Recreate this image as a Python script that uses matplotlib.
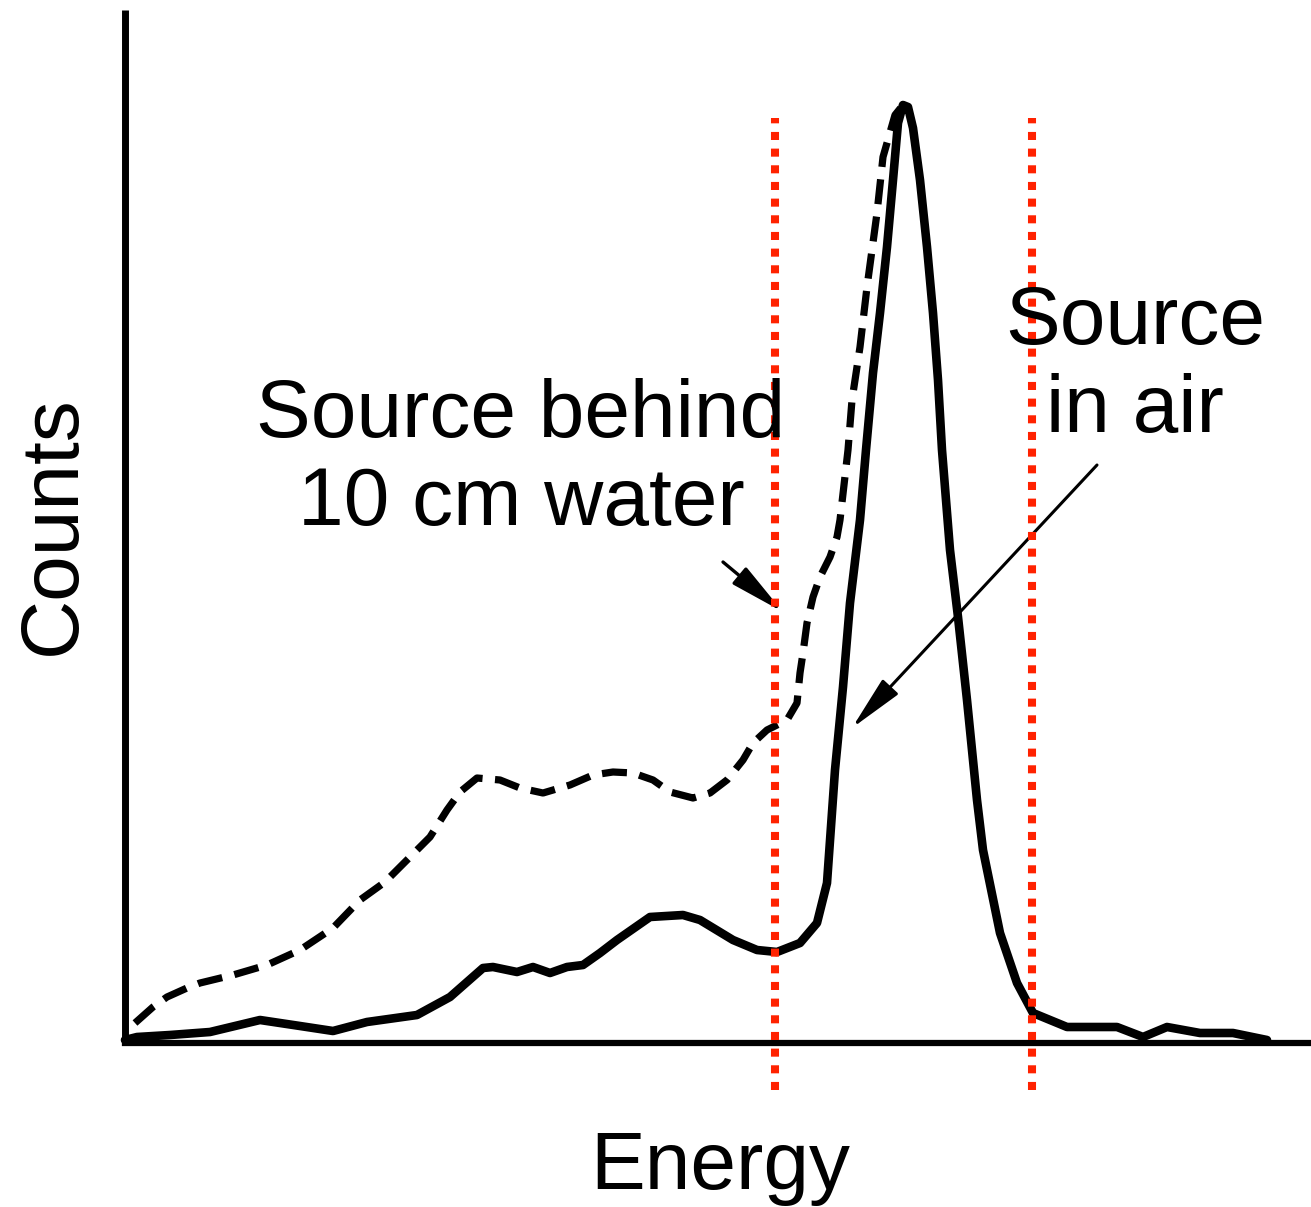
import matplotlib
matplotlib.use("Agg")
import matplotlib.pyplot as plt

# ---- data (arbitrary energy channels / counts) ----
air_energy = [0, 12, 45, 85, 135, 175, 208, 242, 292, 325, 358, 368, 392, 408, 425, 442, 458, 475,
              492, 525, 558, 575, 608, 632, 652, 675, 692, 702, 710, 718, 725, 735, 741, 748, 755,
              762, 768, 773, 778, 783, 788, 795, 802, 808, 813, 817, 825, 833, 842, 852, 858, 875, 892,
              908, 942, 992, 1018, 1042, 1075, 1108, 1142]
air_counts = [3, 6, 8, 11, 23, 17, 12, 21, 28, 46, 75, 76, 71, 76, 70, 76, 78, 90,
              103, 126, 128, 123, 103, 93, 91, 100, 120, 160, 273, 356, 440, 523, 593, 670, 730,
              796, 863, 920, 938, 936, 915, 863, 796, 730, 663, 593, 493, 426, 343, 243, 193, 110, 60,
              30, 16, 16, 6, 16, 10, 10, 3]

water_energy = [10, 28, 42, 62, 75, 108, 142, 175, 208, 235, 260, 285, 305, 322, 335, 352, 375, 395,
                418, 445, 468, 488, 508, 528, 545, 568, 585, 602, 618, 628, 642, 662, 672, 675, 678,
                682, 688, 695, 705, 712, 715, 723, 727, 735, 742, 752, 758, 770, 778]
water_counts = [20, 36, 46, 55, 60, 68, 78, 93, 115, 143, 161, 186, 206, 233, 251, 265, 263, 255,
                250, 258, 268, 271, 270, 263, 251, 245, 250, 263, 283, 300, 313, 323, 340, 370, 390,
                420, 446, 466, 486, 506, 523, 593, 643, 696, 756, 830, 886, 928, 938]

window_edges = [650, 907]
window_top = 925
window_bottom = -47

label_water = "Source behind\n10 cm water"
label_air = "Source\nin air"
xlabel = "Energy"
ylabel = "Counts"

# ---- figure ----
plt.rcParams['font.family'] = ['Liberation Sans', 'DejaVu Sans']
plt.rcParams['lines.scale_dashes'] = False

W, H = 1311, 1207
fig = plt.figure(figsize=(W / 100, H / 100), dpi=100)
ax = fig.add_axes([125 / W, 1 - 1043 / H, (W - 125) / W, (1043 - 10) / H])
ax.set_xlim(0, W - 125)
ax.set_ylim(0, 1033)

for s in ['top', 'right']:
    ax.spines[s].set_visible(False)
ax.spines['left'].set_linewidth(5)
ax.spines['bottom'].set_linewidth(4.5)
ax.spines['left'].set_capstyle('butt')
ax.set_xticks([])
ax.set_yticks([])

ax.plot(air_energy, air_counts, color='black', lw=6.2, solid_joinstyle='round',
        solid_capstyle='round', clip_on=False, zorder=3)
ax.plot(water_energy, water_counts, color='black', lw=5.2, dashes=(18, 9),
        dash_joinstyle='round', clip_on=False, zorder=3)

for e in window_edges:
    ax.plot([e, e], [window_bottom, window_top], color='#ff2200', lw=5.8,
            dashes=(5.8, 6.2), clip_on=False, zorder=4)

fs = 59
ax.text(396, 665, label_water, ha='center', va='top', fontsize=fs,
        multialignment='center', linespacing=1.2, zorder=5)
ax.text(1010, 758, label_air, ha='center', va='top', fontsize=fs,
        multialignment='center', linespacing=1.2, zorder=5)
ax.text(595, -87, xlabel, ha='center', va='top', fontsize=fs, clip_on=False)
ax.text(-71, 518, ylabel, ha='center', va='center', rotation=90, fontsize=fs, clip_on=False)

# arrows
ax.annotate('', xy=(783 - 125, 1043 - 612), xytext=(723 - 125, 1043 - 562),
            arrowprops=dict(arrowstyle='-|>,head_length=1.7,head_width=0.33',
                            mutation_scale=20, color='black', lw=2.4, shrinkA=0, shrinkB=0))
ax.annotate('', xy=(852 - 125, 1043 - 728), xytext=(1097 - 125, 1043 - 465),
            arrowprops=dict(arrowstyle='-|>,head_length=1.7,head_width=0.33',
                            mutation_scale=20, color='black', lw=2.2, shrinkA=0, shrinkB=0))

fig.savefig('out.png', dpi=100, facecolor='white')
